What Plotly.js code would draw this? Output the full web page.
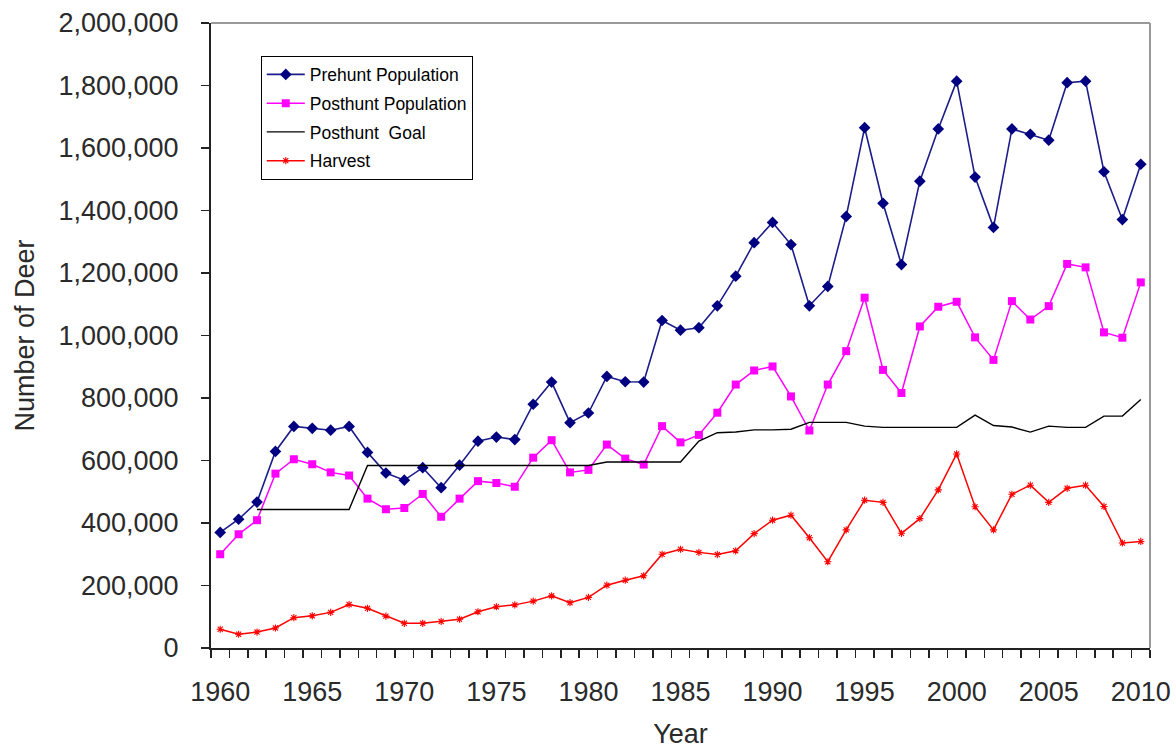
<!DOCTYPE html>
<html>
<head>
<meta charset="utf-8">
<script src="https://cdn.plot.ly/plotly-3.0.1.min.js"></script>
<style>html,body{margin:0;padding:0;background:#fff;}#chart{width:1176px;height:749px;}</style>
</head>
<body>
<div id="chart"></div>
<script>
const years = [];
for (let y = 1960; y <= 2010; y++) years.push(y);

const prehunt = [370000, 412000, 467000, 629000, 709000, 703000, 697000, 709000, 626000, 560000,
  537000, 577000, 513000, 585000, 662000, 675000, 667000, 780000, 851000, 721000,
  752000, 869000, 852000, 851000, 1048000, 1017000, 1025000, 1095000, 1190000, 1297000,
  1362000, 1291000, 1095000, 1157000, 1381000, 1665000, 1423000, 1227000, 1494000, 1661000,
  1814000, 1507000, 1346000, 1661000, 1644000, 1625000, 1809000, 1814000, 1524000, 1371000,
  1548000];

const posthunt = [300000, 364000, 409000, 558000, 604000, 588000, 562000, 552000, 478000, 444000,
  448000, 493000, 420000, 478000, 534000, 528000, 516000, 609000, 665000, 562000,
  570000, 651000, 606000, 587000, 710000, 658000, 682000, 753000, 843000, 888000,
  901000, 805000, 696000, 843000, 950000, 1121000, 890000, 816000, 1029000, 1092000,
  1108000, 994000, 922000, 1110000, 1051000, 1094000, 1229000, 1218000, 1010000, 993000,
  1170000];

const goal = [null, null, 443000, 443000, 443000, 443000, 443000, 443000, 584000, 584000,
  584000, 584000, 584000, 584000, 584000, 584000, 584000, 584000, 584000, 584000,
  584000, 595000, 595000, 595000, 595000, 595000, 662000, 689000, 691000, 698000,
  698000, 700000, 722000, 722000, 722000, 710000, 706000, 706000, 706000, 706000,
  706000, 745000, 712000, 707000, 691000, 710000, 706000, 706000, 742000, 742000,
  795000];

const harvest = [60000, 44000, 51000, 64000, 97000, 103000, 114000, 139000, 127000, 102000,
  79000, 79000, 85000, 92000, 116000, 132000, 138000, 150000, 167000, 145000,
  162000, 201000, 217000, 231000, 300000, 316000, 306000, 299000, 311000, 366000,
  409000, 425000, 353000, 276000, 378000, 473000, 466000, 367000, 414000, 506000,
  621000, 452000, 378000, 492000, 521000, 466000, 511000, 521000, 453000, 336000,
  341000];

const names = ['Prehunt Population', 'Posthunt Population', 'Posthunt\u00a0 Goal', 'Harvest'];
const xLabels = [1960, 1965, 1970, 1975, 1980, 1985, 1990, 1995, 2000, 2005, 2010];
const yTicks = [0, 200000, 400000, 600000, 800000, 1000000, 1200000, 1400000, 1600000, 1800000, 2000000];

const traces = [
  {x: years, y: prehunt, name: names[0], type: 'scatter', mode: 'lines+markers', legendgroup: 'a',
   line: {color: '#1c1c8a', width: 1.6}, marker: {symbol: 'diamond', size: 9, color: '#000080'}},
  {x: years, y: posthunt, name: names[1], type: 'scatter', mode: 'lines+markers', legendgroup: 'b',
   line: {color: '#ff00ff', width: 1.5}, marker: {symbol: 'square', size: 8, color: '#ff00ff'}},
  {x: years, y: goal, name: names[2], type: 'scatter', mode: 'lines', legendgroup: 'c',
   line: {color: '#000000', width: 1.4}},
  {x: years, y: harvest, name: names[3], type: 'scatter', mode: 'lines+markers', legendgroup: 'd',
   line: {color: '#ff0000', width: 1.5}, marker: {symbol: 'asterisk-open', size: 6, color: '#ff0000', line: {color: '#ff0000', width: 1.1}}}
];

const font = 'Arial, "Liberation Sans", sans-serif';
const layout = {
  width: 1176, height: 749,
  margin: {l: 211, r: 26, t: 23, b: 101},
  paper_bgcolor: '#ffffff', plot_bgcolor: '#ffffff',
  font: {family: font, color: '#2a2a2a', size: 27},
  showlegend: true,
  legend: {x: 0.053, y: 0.948, xanchor: 'left', yanchor: 'top', bgcolor: '#ffffff',
    bordercolor: '#000000', borderwidth: 1, font: {family: font, size: 17.5, color: '#000000'},
    tracegroupgap: 3, traceorder: 'grouped', itemwidth: 38},
  xaxis: {
    range: [1959.5, 2010.5], showgrid: false, zeroline: false,
    showline: true, linecolor: '#222222', linewidth: 2,
    tickmode: 'array', tickvals: xLabels, ticktext: xLabels.map(String),
    ticks: 'outside', ticklen: 0, tickcolor: '#222222',
    ticklabelstandoff: 19,
    tickfont: {family: font, size: 27, color: '#2a2a2a'},
    minor: {tickmode: 'linear', tick0: 1959.5, dtick: 1, ticks: 'outside', ticklen: 8, tickwidth: 1.5, tickcolor: '#222222', showgrid: false},
    title: {text: 'Year', font: {family: font, size: 27, color: '#2a2a2a'}, standoff: 19},
    fixedrange: true
  },
  yaxis: {
    range: [0, 2000000], showgrid: false, zeroline: false,
    showline: true, linecolor: '#222222', linewidth: 2,
    tickmode: 'array', tickvals: yTicks, tickformat: ',d',
    ticks: 'outside', ticklen: 8, tickwidth: 1.5, tickcolor: '#222222',
    ticklabelstandoff: 17,
    tickfont: {family: font, size: 27, color: '#2a2a2a'},
    title: {text: 'Number of Deer', font: {family: font, size: 27, color: '#2a2a2a'}, standoff: 16},
    fixedrange: true
  },
  shapes: [
    {type: 'line', xref: 'paper', yref: 'paper', x0: 0, x1: 1, y0: 1, y1: 1, line: {color: '#999999', width: 2}},
    {type: 'line', xref: 'paper', yref: 'paper', x0: 1, x1: 1, y0: 0, y1: 1, line: {color: '#999999', width: 2}}
  ]
};

Plotly.newPlot('chart', traces, layout, {displayModeBar: false, staticPlot: true});
</script>
</body>
</html>
